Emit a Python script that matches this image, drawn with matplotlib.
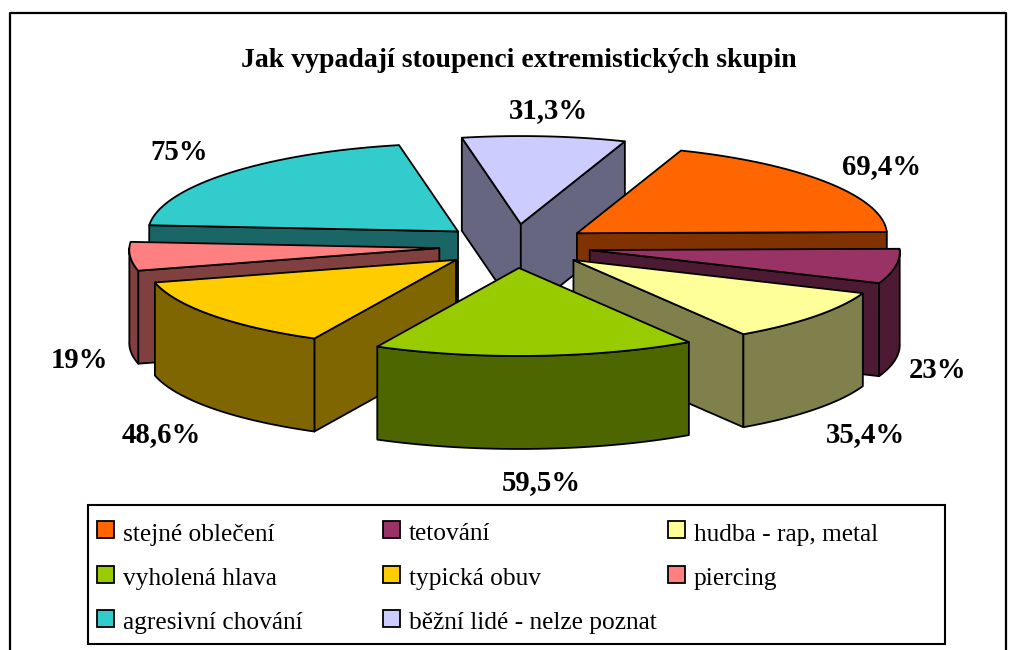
import numpy as np
import matplotlib
matplotlib.use("Agg")
import matplotlib.pyplot as plt
from matplotlib.patches import Polygon, Rectangle

plt.rcParams['font.family'] = ['Liberation Serif', 'DejaVu Sans']

categories = ["stejné oblečení", "tetování", "hudba - rap, metal", "vyholená hlava",
              "typická obuv", "piercing", "agresivní chování", "běžní lidé - nelze poznat"]
values = [69.4, 23, 35.4, 59.5, 48.6, 19, 75, 31.3]
value_labels = ["69,4%", "23%", "35,4%", "59,5%", "48,6%", "19%", "75%", "31,3%"]
colors = ["#FF6600", "#993366", "#FFFF99", "#99CC00", "#FFCC00", "#FF8080", "#33CCCC", "#CCCCFF"]
side_colors = ["#803300", "#4D1A33", "#80804D", "#4D6600", "#806600", "#804040", "#1A6666", "#666680"]
label_pos = [(882, 167), (938, 370), (866, 435), (541, 483), (161, 435), (80, 361), (179, 153), (549, 111)]

START = 20
CX, CY = 515, 246
RX, RY = 310, 88
EX, EY = 76, 22
DEPTH = 93
PERSP = 0.02
LW = 1.3
draw_order = [7, 0, 6, 1, 5, 2, 4, 3]

fig = plt.figure(figsize=(10.18, 6.5), dpi=100)
ax = fig.add_axes([0, 0, 1, 1])
ax.set_xlim(0, 1018)
ax.set_ylim(650, 0)
ax.axis("off")

# chart frame
ax.plot([10, 10, 1006, 1006], [650, 13, 13, 650], color="black", lw=1.6)

ax.text(518.5, 60.5, "Jak vypadají stoupenci extremistických skupin", ha="center", va="center",
        fontsize=20, fontweight="bold")

total = sum(values)
edges = START + np.concatenate([[0], np.cumsum(values)]) / total * 360


def rim(cx, cy, deg):
    t = np.radians(deg)
    return cx + RX * np.sin(t) * (1 - PERSP * np.cos(t)), cy - RY * np.cos(t)


for i in draw_order:
    a0, a1 = edges[i], edges[i + 1]
    mid = np.radians((a0 + a1) / 2)
    cx = CX + EX * np.sin(mid)
    cy = CY - EY * np.cos(mid)
    # radial cut faces
    for edge_deg, visible in ((a0, np.sin(np.radians(a0)) < 0), (a1, np.sin(np.radians(a1)) > 0)):
        if visible:
            ex, ey = rim(cx, cy, edge_deg)
            ax.add_patch(Polygon([(cx, cy), (ex, ey), (ex, ey + DEPTH), (cx, cy + DEPTH)],
                                 fc=side_colors[i], ec="black", lw=LW, joinstyle="round"))
    # outer wall, only the part that faces the viewer
    lo, hi = max(a0, 90), min(a1, 270)
    if hi > lo:
        wa = np.linspace(lo, hi, 40)
        wx, wy = rim(cx, cy, wa)
        pts = np.column_stack([np.r_[wx, wx[::-1]], np.r_[wy, wy[::-1] + DEPTH]])
        ax.add_patch(Polygon(pts, fc=side_colors[i], ec="black", lw=LW, joinstyle="round"))
    # top
    x, y = rim(cx, cy, np.linspace(a0, a1, 40))
    ax.add_patch(Polygon(np.column_stack([np.r_[cx, x], np.r_[cy, y]]), fc=colors[i], ec="black",
                         lw=LW, joinstyle="round"))

for (lx, ly), s in zip(label_pos, value_labels):
    ax.text(lx, ly, s, ha="center", va="center", fontsize=20.7, fontweight="bold")

# legend
ax.add_patch(Rectangle((88.5, 505), 857, 139, fc="white", ec="black", lw=1.5))
col_x = [97, 383, 668]
row_y = [521, 566, 610]
for k, (name, c) in enumerate(zip(categories, colors)):
    lx, ly = col_x[k % 3], row_y[k // 3]
    ax.add_patch(Rectangle((lx, ly), 17, 17, fc=c, ec="black", lw=1.3))
    ax.text(lx + 26, ly + 19.5, name, ha="left", va="baseline", fontsize=18.3)

fig.savefig("out.png", dpi=100)
